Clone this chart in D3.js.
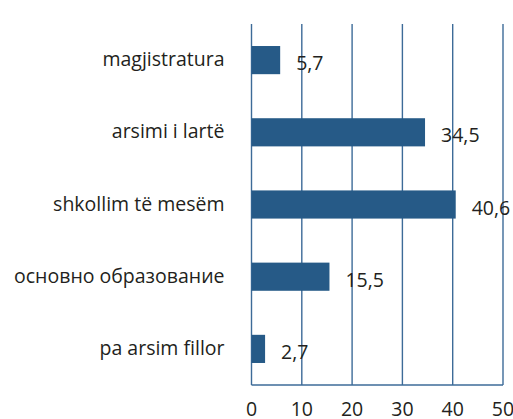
<!DOCTYPE html>
<html>
<head>
<meta charset="utf-8">
<script src="https://cdnjs.cloudflare.com/ajax/libs/d3/7.8.5/d3.min.js"></script>
<style>
  body { margin: 0; background: #fff; }
  text { font-family: "Open Sans", sans-serif; fill: #231f20; }
</style>
</head>
<body>
<svg id="chart" width="513" height="419"></svg>
<script>
// categories top to bottom, values in %
var categories = ["magjistratura", "arsimi i lartë", "shkollim të mesëm", "основно образование", "pa arsim fillor"]
var values = [5.7, 34.5, 40.6, 15.5, 2.7]
var valueLabels = ["5,7", "34,5", "40,6", "15,5", "2,7"]
var ticks = [0, 10, 20, 30, 40, 50]

var svg = d3.select("#chart")
var plotLeft = 251.5, plotRight = 503, plotTop = 24, plotBottom = 385
var barColor = "#265a87"
var gridColor = "#3d6b98"
var fontSize = 19.5

var x = d3.scaleLinear().domain([0, 50]).range([plotLeft, plotRight])
var y = d3.scaleBand().domain(categories).range([plotTop, plotBottom])
  .paddingInner(0.61).paddingOuter(0.305)

// vertical gridlines
svg.selectAll(".grid").data(ticks).enter().append("line")
  .attr("class", "grid")
  .attr("x1", function (d) { return x(d) })
  .attr("x2", function (d) { return x(d) })
  .attr("y1", plotTop)
  .attr("y2", plotBottom)
  .attr("stroke", gridColor)
  .attr("stroke-width", 1.4)

// bottom axis line
svg.append("line")
  .attr("x1", x(0)).attr("x2", x(50))
  .attr("y1", plotBottom).attr("y2", plotBottom)
  .attr("stroke", gridColor)
  .attr("stroke-width", 1.4)

// bars
svg.selectAll(".bar").data(values).enter().append("rect")
  .attr("class", "bar")
  .attr("x", x(0))
  .attr("y", function (d, i) { return y(categories[i]) })
  .attr("width", function (d) { return x(d) - x(0) })
  .attr("height", y.bandwidth())
  .attr("fill", barColor)

// value labels
svg.selectAll(".val").data(values).enter().append("text")
  .attr("class", "val")
  .attr("x", function (d) { return x(d) + 16 })
  .attr("y", function (d, i) { return y(categories[i]) + y.bandwidth() / 2 + 10 })
  .attr("font-size", fontSize)
  .text(function (d, i) { return valueLabels[i] })

// category labels
svg.selectAll(".cat").data(categories).enter().append("text")
  .attr("class", "cat")
  .attr("x", plotLeft - 27)
  .attr("y", function (d) { return y(d) + y.bandwidth() / 2 + 6 })
  .attr("text-anchor", "end")
  .attr("font-size", fontSize)
  .text(function (d) { return d })

// tick labels
svg.selectAll(".tlab").data(ticks).enter().append("text")
  .attr("class", "tlab")
  .attr("x", function (d) { return x(d) })
  .attr("y", 416)
  .attr("text-anchor", "middle")
  .attr("font-size", fontSize)
  .text(function (d) { return d })
</script>
</body>
</html>
